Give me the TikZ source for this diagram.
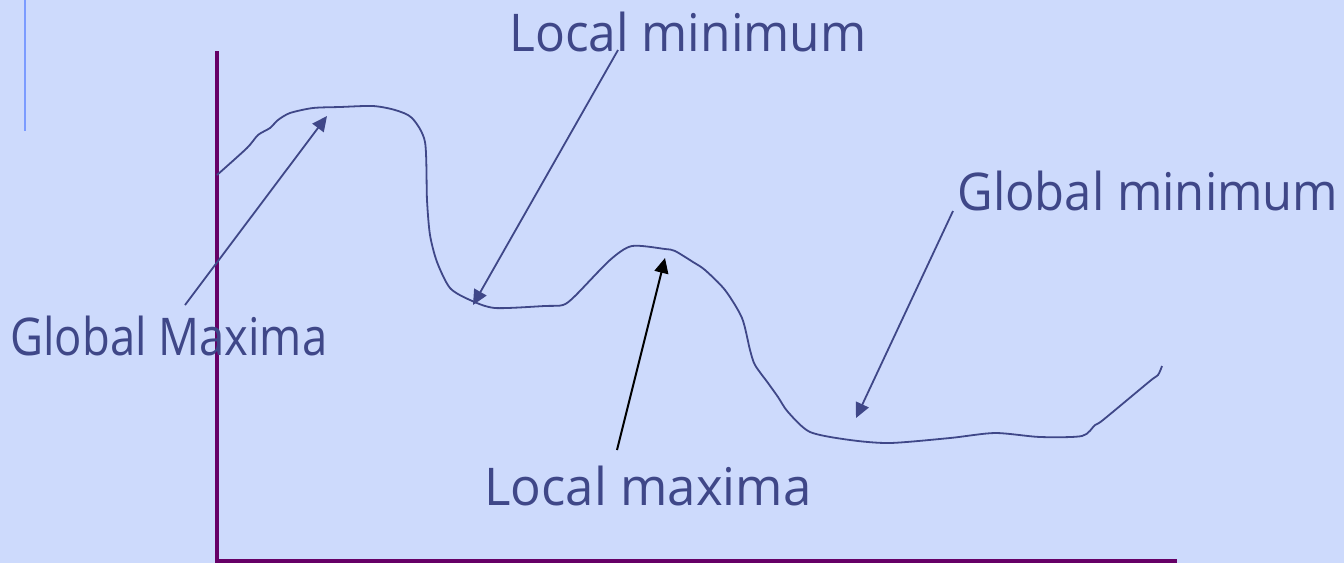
\documentclass[tikz,border=0pt]{standalone}
\usepackage{fontspec}
\setmainfont{Open Sans}
\usetikzlibrary{arrows.meta}
\definecolor{bgc}{HTML}{CDDAFC}
\definecolor{txtc}{HTML}{3F4788}
\definecolor{axc}{HTML}{660066}
\definecolor{barc}{HTML}{7B9BFF}
\newcommand{\fitw}[2]{\resizebox{#1}{\height}{#2}}
\tikzset{
  lbl/.style={anchor=base west,inner sep=0pt,text=txtc,font=\fontsize{26}{30}\selectfont},
  pointer/.style={draw=txtc,line width=0.9pt,-{Triangle[length=7.5pt,width=7pt]}},
  blkpointer/.style={draw=black,line width=1pt,-{Triangle[length=7.5pt,width=7pt]}},
  curve/.style={draw=txtc,line width=0.9pt},
  axis/.style={draw=axc,line width=2pt},
}
\begin{document}
\begin{tikzpicture}[x=0.5pt,y=-0.5pt]
\fill[bgc] (0,0) rectangle (1344,563);
\useasboundingbox (0,0) rectangle (1344,563);
\draw[barc,line width=1pt] (25,0) -- (25,131);
% axes
\coordinate (ytop) at (217,51);
\coordinate (orig) at (217,561);
\coordinate (xend) at (1177,561);
\draw[axis] (ytop) -- (orig) -- (xend);
% curve
\draw[curve] plot[smooth,tension=0.45] coordinates {
(217,175) (247,148) (258,135) (270,128) (278,120) (290,113) (313,108) (340,107) (373,106)
(395,110) (412,118) (425,142) (427,200) (430,235) (437,262) (450,288) (470,300) (495,308)
(545,306) (563,305) (575,296) (610,260) (632,246) (665,249) (675,251) (693,262) (705,270)
(725,290) (742,318) (750,350) (755,365) (768,383) (778,397) (788,412) (810,432) (850,440)
(890,443) (950,438) (995,433) (1040,437) (1082,436) (1095,425) (1103,420) (1150,381)
(1158,375) (1162,366)};
% labels
\node[lbl] (lmin) at (509,51) {\fitw{178.5pt}{Local minimum}};
\node[lbl] (gmin) at (957,210) {\fitw{190.5pt}{Global minimum}};
\node[lbl] (gmax) at (10,355) {\fitw{158.5pt}{Global Maxima}};
\node[lbl] (lmax) at (484,505) {\fitw{163.5pt}{Local maxima}};
% arrow ends
\coordinate (gmaxs) at (185,305);
\coordinate (gmaxe) at (327,116);
\coordinate (lmins) at (618,50);
\coordinate (lmine) at (473,305);
\coordinate (lmaxs) at (617,450);
\coordinate (lmaxe) at (665,258);
\coordinate (gmins) at (953,211);
\coordinate (gmine) at (856,418);
\draw[pointer] (gmaxs) -- (gmaxe);
\draw[pointer] (lmins) -- (lmine);
\draw[blkpointer] (lmaxs) -- (lmaxe);
\draw[pointer] (gmins) -- (gmine);
\end{tikzpicture}
\end{document}
